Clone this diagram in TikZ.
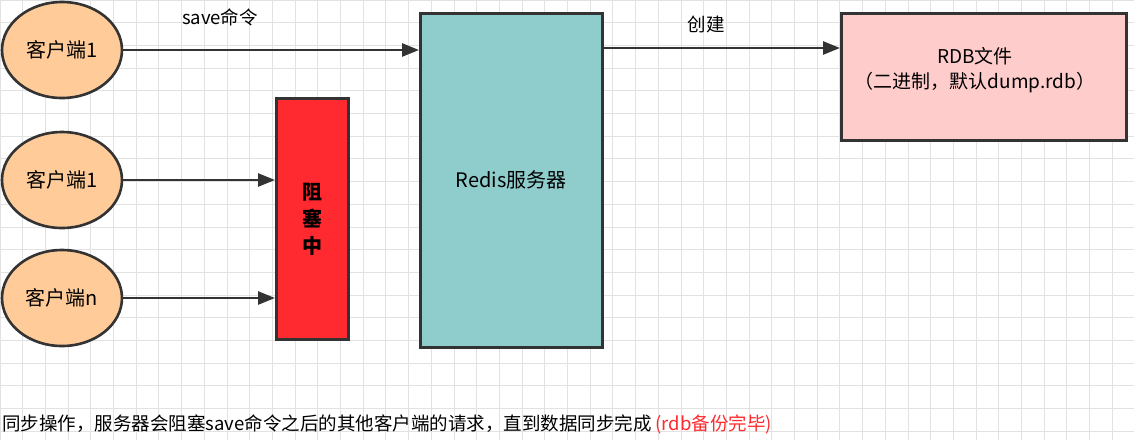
\documentclass[tikz,border=0pt]{standalone}
\usepackage{fontspec}
\setmainfont{Noto Sans CJK SC}
\usetikzlibrary{arrows.meta,shapes.geometric}
\definecolor{gridc}{HTML}{E2E2E2}
\definecolor{cli}{HTML}{FFCC99}
\definecolor{teal}{HTML}{8FCCCC}
\definecolor{pinkc}{HTML}{FFCCCC}
\definecolor{redc}{HTML}{FF2A2F}
\definecolor{linec}{HTML}{333333}
\tikzset{x=1pt,y=-1pt,
 client/.style={ellipse,draw=linec,line width=2.6pt,fill=cli,minimum width=120,minimum height=96,inner sep=0,font=\fontsize{20}{22}\selectfont},
 box/.style={draw=linec,line width=2.6pt,inner sep=0,anchor=north west},
 arr/.style={-{Triangle[length=17pt,width=13pt]},line width=2.6pt,draw=linec},
 lbl/.style={font=\fontsize{18.5}{22}\selectfont}}
\begin{document}
\begin{tikzpicture}
\useasboundingbox (0,0) rectangle (1134,440);
\fill[white] (0,0) rectangle (1134,440);
\foreach \i in {0,...,50} {\draw[gridc,line width=1pt] (\i*22.7,0) -- (\i*22.7,440);}
\foreach \i in {0,...,19} {\draw[gridc,line width=1pt] (0,\i*22.7) -- (1134,\i*22.7);}
\node[client] (c1) at (62,50) {客户端1};
\node[client] (c2) at (62,180) {客户端1};
\node[client] (cn) at (62,298) {客户端n};
\node[box,fill=redc,minimum width=72,minimum height=241] (blk) at (275,97) {};
\node[font=\fontsize{20}{27}\selectfont\bfseries,align=center] at (blk.center) {阻\\塞\\中};
\node[box,fill=teal,minimum width=182,minimum height=334] (srv) at (419,12) {};
\node[font=\fontsize{20}{22}\selectfont] at (srv.center) {Redis服务器};
\node[box,fill=pinkc,minimum width=285,minimum height=127] (rdb) at (840,12) {};
\node[font=\fontsize{19}{25}\selectfont,align=center] at (975,70) {RDB文件\\（二进制，默认dump.rdb）};
\draw[arr] (c1.east) -- (c1.east -| srv.west);
\draw[arr] (srv.north east |- 0,48) coordinate (s1) -- (rdb.west |- s1);
\draw[arr] (c2.east) -- (c2.east -| blk.west);
\draw[arr] (cn.east) -- (cn.east -| blk.west);
\node[lbl] (l1) at (220,17) {save命令};
\node[lbl] (l2) at (706,24) {创建};
\node[lbl,anchor=west,inner sep=2pt] (bt) at (0,424) {同步操作，服务器会阻塞save命令之后的其他客户端的请求，直到数据同步完成 \textcolor{redc}{(rdb备份完毕)}};
\end{tikzpicture}
\end{document}
